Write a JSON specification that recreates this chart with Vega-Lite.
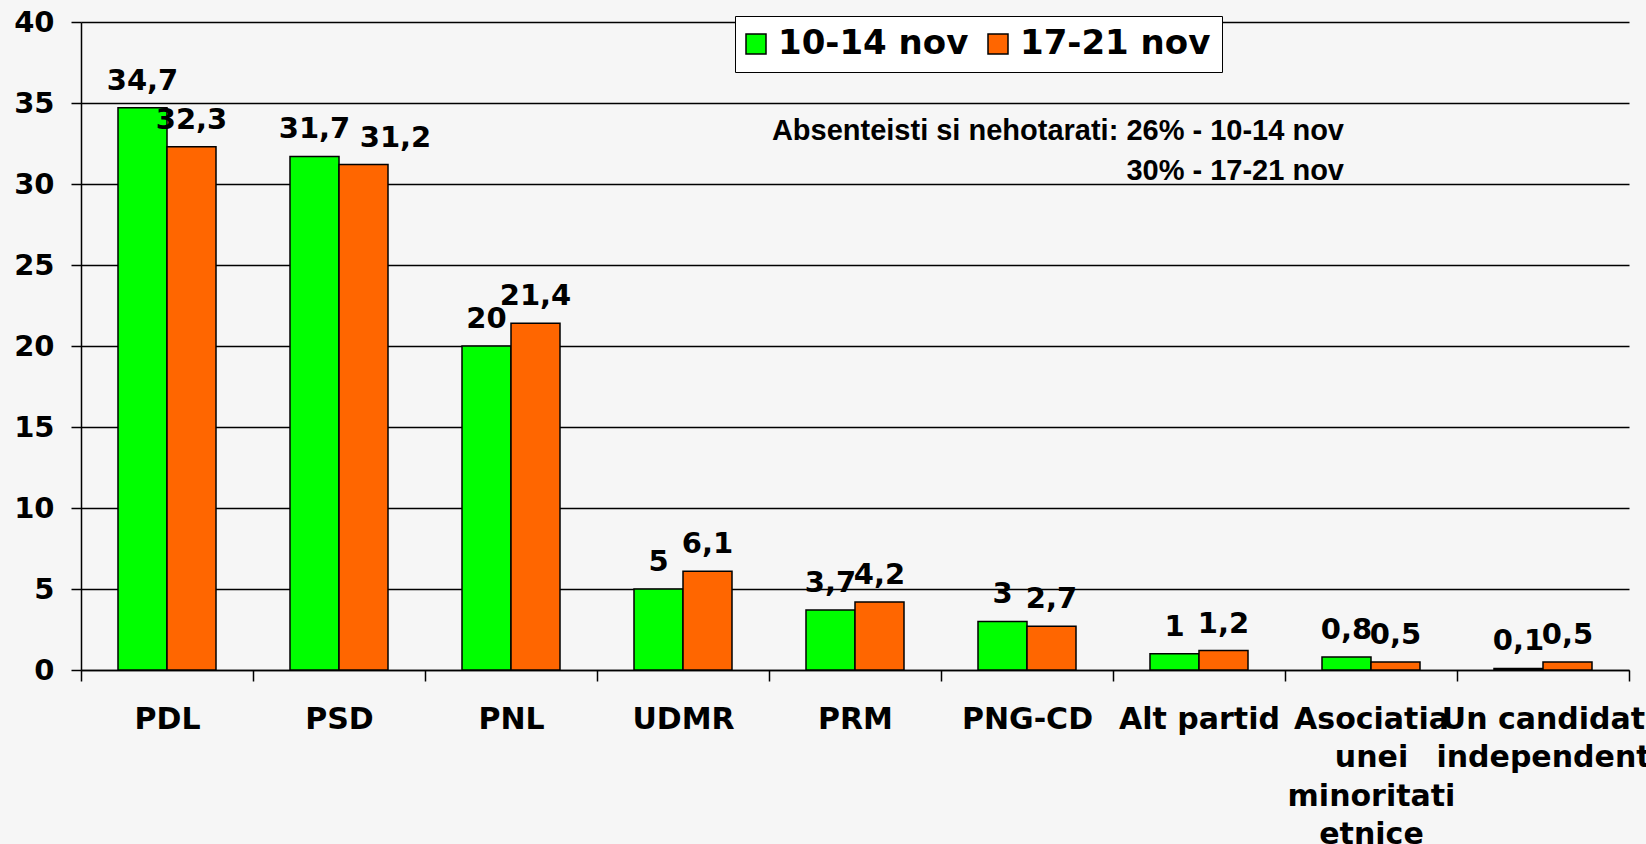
{
  "$schema": "https://vega.github.io/schema/vega-lite/v6.json",
  "width": 1548,
  "height": 648,
  "autosize": {"type": "none"},
  "padding": {"left": 81, "top": 22, "right": 17, "bottom": 174},
  "background": "#f6f6f6",
  "config": {
    "view": {"stroke": null},
    "locale": {"number": {"decimal": ",", "thousands": ".", "grouping": [3], "currency": ["", " lei"]}},
    "axis": {"labelFont": "DejaVu Sans", "labelFontWeight": "bold", "labelColor": "black", "domainColor": "black", "tickColor": "black", "domainWidth": 1.5, "tickWidth": 1.5}
  },
  "datasets": {
    "rezultate": [
      {"partid": "PDL", "perioada": "10-14 nov", "procent": 34.7},
      {"partid": "PDL", "perioada": "17-21 nov", "procent": 32.3},
      {"partid": "PSD", "perioada": "10-14 nov", "procent": 31.7},
      {"partid": "PSD", "perioada": "17-21 nov", "procent": 31.2},
      {"partid": "PNL", "perioada": "10-14 nov", "procent": 20},
      {"partid": "PNL", "perioada": "17-21 nov", "procent": 21.4},
      {"partid": "UDMR", "perioada": "10-14 nov", "procent": 5},
      {"partid": "UDMR", "perioada": "17-21 nov", "procent": 6.1},
      {"partid": "PRM", "perioada": "10-14 nov", "procent": 3.7},
      {"partid": "PRM", "perioada": "17-21 nov", "procent": 4.2},
      {"partid": "PNG-CD", "perioada": "10-14 nov", "procent": 3},
      {"partid": "PNG-CD", "perioada": "17-21 nov", "procent": 2.7},
      {"partid": "Alt partid", "perioada": "10-14 nov", "procent": 1},
      {"partid": "Alt partid", "perioada": "17-21 nov", "procent": 1.2},
      {"partid": "Asociatia unei minoritati etnice", "perioada": "10-14 nov", "procent": 0.8},
      {"partid": "Asociatia unei minoritati etnice", "perioada": "17-21 nov", "procent": 0.5},
      {"partid": "Un candidat independent", "perioada": "10-14 nov", "procent": 0.1},
      {"partid": "Un candidat independent", "perioada": "17-21 nov", "procent": 0.5}
    ],
    "nota": [
      {"partid": "Asociatia unei minoritati etnice", "procent": 32.7, "text": "Absenteisti si nehotarati: 26% - 10-14 nov"},
      {"partid": "Asociatia unei minoritati etnice", "procent": 30.25, "text": "30% - 17-21 nov"}
    ]
  },
  "layer": [
    {
      "data": {"name": "rezultate"},
      "mark": {"type": "bar", "stroke": "black", "strokeWidth": 1.5},
      "encoding": {
        "x": {
          "field": "partid", "type": "nominal", "sort": null,
          "scale": {"paddingInner": 0, "paddingOuter": 0, "domain": ["PDL", "PSD", "PNL", "UDMR", "PRM", "PNG-CD", "Alt partid", "Asociatia unei minoritati etnice", "Un candidat independent"]},
          "axis": {
            "title": null, "labelAngle": 0, "labelFontSize": 30, "tickSize": 11, "tickBand": "extent",
            "labelPadding": 23, "labelLineHeight": 38.5, "labelLimit": 0, "labelBaseline": "top", "labelOverlap": false,
            "labelExpr": "datum.label == 'Asociatia unei minoritati etnice' ? ['Asociatia', 'unei', 'minoritati', 'etnice'] : datum.label == 'Un candidat independent' ? ['Un candidat', 'independent'] : datum.label"
          }
        },
        "xOffset": {"field": "perioada", "type": "nominal", "scale": {"paddingInner": 0, "paddingOuter": 0.755}},
        "y": {
          "field": "procent", "type": "quantitative",
          "scale": {"domain": [0, 40], "nice": false},
          "axis": {"title": null, "values": [0, 5, 10, 15, 20, 25, 30, 35, 40], "labelFontSize": 29, "tickSize": 10, "labelPadding": 17, "grid": true, "gridColor": "black", "gridWidth": 1.5, "gridOpacity": 1}
        },
        "color": {
          "field": "perioada", "type": "nominal",
          "scale": {"domain": ["10-14 nov", "17-21 nov"], "range": ["#00ff00", "#ff6600"]},
          "legend": {
            "title": null, "orient": "none", "direction": "horizontal", "legendX": 654, "legendY": -6,
            "fillColor": "white", "strokeColor": "black", "padding": 11,
            "symbolType": "square", "symbolSize": 400, "symbolStrokeColor": "black", "symbolStrokeWidth": 1.5, "symbolOffset": -7,
            "labelFont": "DejaVu Sans", "labelFontWeight": "bold", "labelFontSize": 34, "labelColor": "black",
            "labelOffset": 5, "columnPadding": 16, "labelLimit": 0
          }
        }
      }
    },
    {
      "data": {"name": "rezultate"},
      "transform": [{"filter": "!(datum.partid == 'PSD' && datum.perioada == '17-21 nov')"}],
      "mark": {"type": "text", "font": "DejaVu Sans", "fontWeight": "bold", "fontSize": 29, "baseline": "alphabetic", "dy": -18, "color": "black"},
      "encoding": {
        "x": {"field": "partid", "type": "nominal", "sort": null},
        "xOffset": {"field": "perioada", "type": "nominal"},
        "y": {"field": "procent", "type": "quantitative"},
        "text": {"field": "procent", "type": "quantitative", "format": "~g"}
      }
    },
    {
      "data": {"name": "rezultate"},
      "transform": [{"filter": "datum.partid == 'PSD' && datum.perioada == '17-21 nov'"}],
      "mark": {"type": "text", "font": "DejaVu Sans", "fontWeight": "bold", "fontSize": 29, "baseline": "alphabetic", "dy": -18, "dx": 32, "color": "black"},
      "encoding": {
        "x": {"field": "partid", "type": "nominal", "sort": null},
        "xOffset": {"field": "perioada", "type": "nominal"},
        "y": {"field": "procent", "type": "quantitative"},
        "text": {"field": "procent", "type": "quantitative", "format": "~g"}
      }
    },
    {
      "data": {"name": "nota"},
      "mark": {"type": "text", "font": "Liberation Sans", "fontWeight": "bold", "fontSize": 29, "align": "right", "baseline": "alphabetic", "dx": -27, "color": "black"},
      "encoding": {
        "x": {"field": "partid", "type": "nominal", "sort": null},
        "y": {"field": "procent", "type": "quantitative"},
        "text": {"field": "text", "type": "nominal"}
      }
    }
  ]
}
